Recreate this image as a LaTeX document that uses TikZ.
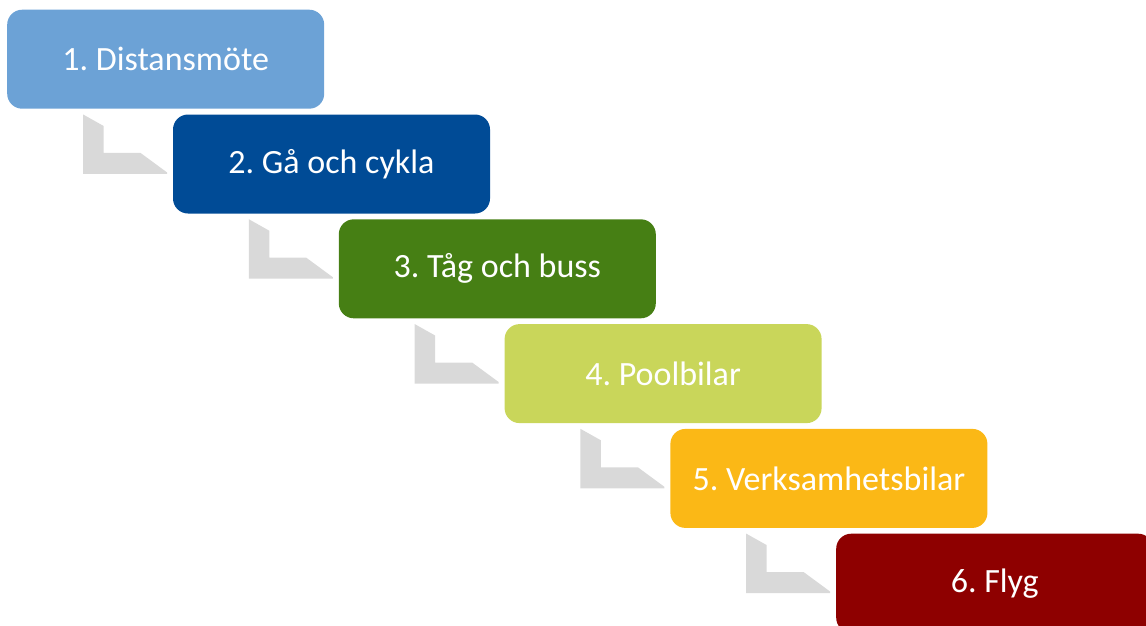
\documentclass[tikz,border=0pt]{standalone}
\usepackage{fontspec}
\setmainfont{Carlito}
\frenchspacing
\definecolor{c1}{HTML}{6CA2D6}
\definecolor{c2}{HTML}{004B96}
\definecolor{c3}{HTML}{467F14}
\definecolor{c4}{HTML}{C9D65A}
\definecolor{c5}{HTML}{FBB816}
\definecolor{c6}{HTML}{8E0000}
\definecolor{conn}{HTML}{D9D9D9}
\tikzset{
  stepbox/.style={rounded corners=15pt, minimum width=317pt, minimum height=99pt,
    inner sep=0pt, text=white, font=\fontsize{34}{40}\selectfont, anchor=north west},
  bentconn/.style={fill=conn, draw=none}
}
\begin{document}
\begin{tikzpicture}[x=1pt,y=-1pt]
\useasboundingbox (0,0) rectangle (1146,625);
\clip (0,0) rectangle (1146,625);
\node[stepbox, fill=c1] (b1) at (7,9.5) {1. Distansmöte};
\node[stepbox, fill=c2] (b2) at (172.8,114.3) {2. Gå och cykla};
\node[stepbox, fill=c3] (b3) at (338.6,219.1) {3. Tåg och buss};
\node[stepbox, fill=c4] (b4) at (504.4,323.9) {4. Poolbilar};
\node[stepbox, fill=c5] (b5) at (670.2,428.7) {5. Verksamhetsbilar};
\node[stepbox, fill=c6] (b6) at (836,533.5) {6. Flyg};
\foreach \i in {1,...,5}{
  \begin{scope}[shift={(b\i.south west)}]
    \fill[bentconn] (76,5.5) -- (96.5,17) -- (96.5,44) -- (133.5,44) -- (160,63.5)
      -- (160,65) -- (76,65) -- cycle;
  \end{scope}
}
\end{tikzpicture}
\end{document}
